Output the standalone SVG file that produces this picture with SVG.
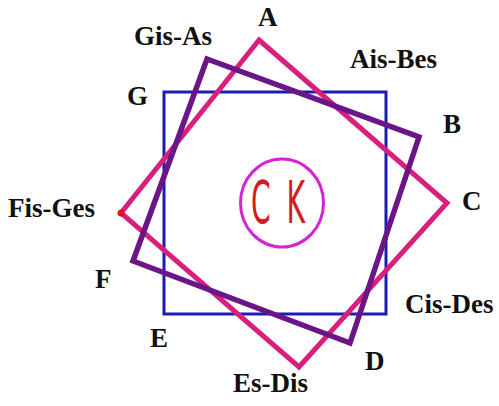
<svg xmlns="http://www.w3.org/2000/svg" width="499" height="406" viewBox="0 0 499 406">
<style>
text.lbl{font-family:'Liberation Serif','DejaVu Serif','Times New Roman',serif;font-weight:700;font-size:27px;fill:#111}
.sq{fill:none;stroke-linejoin:miter}
</style>
<rect width="499" height="406" fill="#fff"/>
<g id="connectors">
<polygon id="blue-square" class="sq" points="164,92 386,92 386,314 164,314" stroke="#1c1cb0" stroke-width="3"/>
<polygon id="pink-square" class="sq" points="259,40 447,203 299,367 121,213" stroke="#d81f7c" stroke-width="5"/>
<polygon id="purple-square" class="sq" points="207,59 419,137 350,343 133,261" stroke="#6a1688" stroke-width="5.5"/>
<circle cx="121" cy="213" r="3.5" fill="#e8141c"/>
</g>
<g id="center">
<ellipse cx="282" cy="203" rx="41.5" ry="44" fill="none" stroke="#d424d4" stroke-width="3"/>
<text transform="translate(251,223) scale(0.48,1)" font-family="DejaVu Sans,sans-serif" font-size="59" fill="#d41c1c"><tspan x="0">C</tspan><tspan x="74">K</tspan></text>
</g>
<g font-family="Liberation Serif, DejaVu Serif, serif" font-weight="bold" font-size="27" fill="#111">
<g id="node-A"><text class="lbl" x="258" y="26">A</text></g>
<g id="node-GisAs"><text class="lbl" x="134" y="45">Gis-As</text></g>
<g id="node-AisBes"><text class="lbl" x="350" y="68">Ais-Bes</text></g>
<g id="node-G"><text class="lbl" x="127" y="105">G</text></g>
<g id="node-B"><text class="lbl" x="443" y="133">B</text></g>
<g id="node-C"><text class="lbl" x="462" y="210">C</text></g>
<g id="node-FisGes"><text class="lbl" x="8" y="217">Fis-Ges</text></g>
<g id="node-F"><text class="lbl" x="95" y="288">F</text></g>
<g id="node-CisDes"><text class="lbl" x="405" y="313">Cis-Des</text></g>
<g id="node-E"><text class="lbl" x="150" y="347">E</text></g>
<g id="node-D"><text class="lbl" x="365" y="370">D</text></g>
<g id="node-EsDis"><text class="lbl" x="233" y="392">Es-Dis</text></g>
</g>
</svg>
